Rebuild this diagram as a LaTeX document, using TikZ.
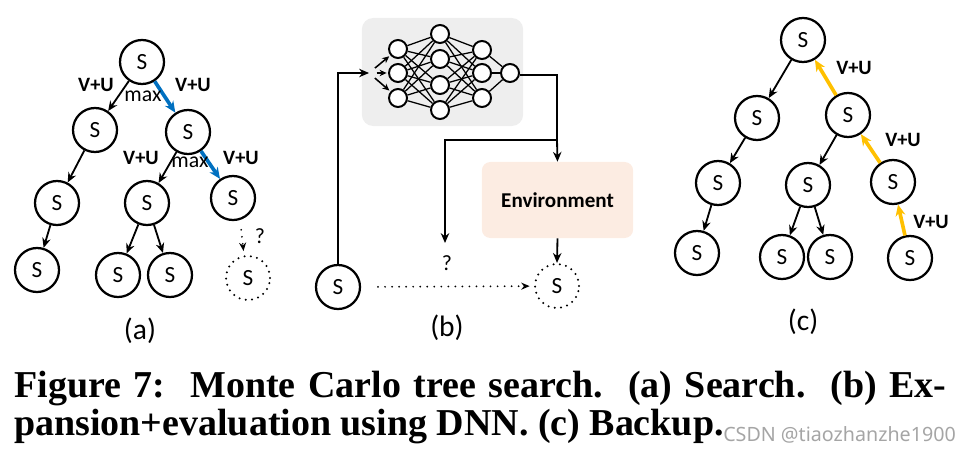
\documentclass[tikz,border=0pt]{standalone}
\usepackage{fontspec}
\setmainfont{Liberation Serif}
\setsansfont{Carlito}
\newfontfamily\markfont{Noto Sans}
\usetikzlibrary{arrows.meta}
\definecolor{pathblue}{RGB}{0,112,192}
\definecolor{backyellow}{RGB}{255,192,0}
\definecolor{netgray}{RGB}{238,238,238}
\definecolor{envpeach}{RGB}{252,236,226}
\definecolor{markgray}{RGB}{165,165,165}

\begin{document}
\begin{tikzpicture}[x=0.025cm, y=-0.025cm,
  state/.style={circle, draw, line width=1.6pt, minimum size=1.1cm, inner sep=0pt, font=\sffamily\fontsize{16.5}{16.5}\selectfont},
  ghost/.style={state, draw, dash pattern=on 0pt off 4.5pt, line cap=round},
  unit/.style={circle, draw, fill=white, line width=1.4pt, minimum size=0.45cm, inner sep=0pt},
  wire/.style={line width=0.9pt},
  arrow/.style={-{Stealth[length=7pt, width=6pt]}, line width=1.3pt},
  small arrow/.style={-{Stealth[length=5pt, width=4.5pt]}, line width=1.1pt},
  blue arrow/.style={-{Stealth[length=8pt, width=7pt]}, line width=2.6pt, draw=pathblue, fill=pathblue},
  back arrow/.style={-{Stealth[length=8pt, width=7pt]}, line width=2.6pt, draw=backyellow, fill=backyellow},
  dot arrow/.style={-{Stealth[length=6pt, width=5pt]}, line width=1.4pt, dash pattern=on 0pt off 5pt, line cap=round},
  lbl/.style={font=\sffamily\bfseries\fontsize{14.5}{14.5}\selectfont},
  mx/.style={font=\sffamily\fontsize{15.5}{15.5}\selectfont},
  sub/.style={font=\sffamily\fontsize{21}{21}\selectfont},
  capline/.style={inner sep=0pt, anchor=base west, font=\bfseries\fontsize{27}{27}\selectfont}
]
  \useasboundingbox (0,0) rectangle (966,453);

  % (a) Search
  \node[state] (ar0) at (142,62) {S};
  \node[state] (a1l) at (95,130) {S};
  \node[state] (a1r) at (188,132) {S};
  \node[state] (a2l) at (57,203) {S};
  \node[state] (a2m) at (147,203) {S};
  \node[state] (a2r) at (233,198) {S};
  \node[state] (a3l) at (37,270) {S};
  \node[state] (a3a) at (118,275) {S};
  \node[state] (a3b) at (170,275) {S};
  \node[ghost] (ad) at (248,278) {S};

  \draw[arrow] (ar0) -- (a1l);
  \draw[arrow] (a1l) -- (a2l);
  \draw[arrow] (a2l) -- (a3l);
  \draw[arrow] (a1r) -- (a2m);
  \draw[arrow] (a2m) -- (a3a);
  \draw[arrow] (a2m) -- (a3b);
  \draw[blue arrow] (ar0) -- (a1r);
  \draw[blue arrow] (a1r) -- (a2r);
  \draw[dot arrow, shorten <=7pt, shorten >=3pt] (a2r.-72) -- (ad.100);

  \node[lbl] (ua1) at (96,85) {V+U};
  \node[mx] (ma1) at (143,96) {max};
  \node[lbl] (ua2) at (193,85) {V+U};
  \node[lbl] (ua3) at (141,158) {V+U};
  \node[mx] (ma2) at (190,162) {max};
  \node[lbl] (ua4) at (241,158) {V+U};
  \node[mx] (qa) at (260,236) {?};
  \node[sub] (suba) at (140,331) {(a)};

  % (b) Expansion + evaluation
  \node[draw=none, fill=netgray, rounded corners=8pt, minimum width=4.03cm, minimum height=2.7cm] (net) at (442.5,72) {};
  \foreach \y [count=\i] in {49,73,98} \node[unit] (n1\i) at (398,\y) {};
  \foreach \y [count=\i] in {34,59,85,110} \node[unit] (n2\i) at (440,\y) {};
  \foreach \y [count=\i] in {50,73,98} \node[unit] (n3\i) at (482,\y) {};
  \node[unit] (nout) at (510,73) {};
  \foreach \i in {1,2,3} \foreach \j in {1,...,4} \draw[wire] (n1\i) -- (n2\j);
  \foreach \i in {1,...,4} \foreach \j in {1,2,3} \draw[wire] (n2\i) -- (n3\j);
  \foreach \i in {1,2,3} \draw[wire] (n3\i) -- (nout);

  \node[fill=envpeach, rounded corners=6pt, minimum width=3.78cm, minimum height=1.9cm, font=\sffamily\bfseries\fontsize{15}{15}\selectfont] (env) at (557.5,200) {Environment};
  \node[state] (bs) at (338,287) {S};
  \node[ghost] (bd) at (557,286) {S};
  \node[mx] (qb) at (447,263) {?};
  \node[sub] (subb) at (447,328) {(b)};

  \coordinate (netin) at (369,73);
  \coordinate (turn) at (557,75);
  \coordinate (split) at (557,140);
  \coordinate (qin) at (445,243);
  \draw[arrow] (bs.north) |- (netin);
  \foreach \i in {1,2,3} \draw[small arrow, shorten <=5.5pt, shorten >=1pt] (netin) -- (n1\i);
  \draw[line width=1.3pt] (nout.east |- turn) -- (turn) -- (split);
  \draw[arrow] (split) -- (env.north);
  \draw[arrow] (split) -| (qin);
  \draw[arrow] (env.south) -- (bd.north);
  \draw[dot arrow, shorten <=12pt, shorten >=3pt] (bs) -- (bd);

  % (c) Backup
  \node[state] (c0) at (803,40) {S};
  \node[state] (c1l) at (757,118) {S};
  \node[state] (c1r) at (848,115) {S};
  \node[state] (c2l) at (718,183) {S};
  \node[state] (c2m) at (808,185) {S};
  \node[state] (c2r) at (893,182) {S};
  \node[state] (c3l) at (697,253) {S};
  \node[state] (c3a) at (782,257) {S};
  \node[state] (c3b) at (830,257) {S};
  \node[state] (c3r) at (910,258) {S};

  \draw[arrow] (c0) -- (c1l);
  \draw[arrow] (c1l) -- (c2l);
  \draw[arrow] (c2l) -- (c3l);
  \draw[arrow] (c1r) -- (c2m);
  \draw[arrow] (c2m) -- (c3a);
  \draw[arrow] (c2m) -- (c3b);
  \draw[back arrow] (c1r) -- (c0);
  \draw[back arrow] (c2r) -- (c1r);
  \draw[back arrow] (c3r) -- (c2r);

  \node[lbl] (uc1) at (854,68) {V+U};
  \node[lbl] (uc2) at (903,140) {V+U};
  \node[lbl] (uc3) at (931,222) {V+U};
  \node[sub] (subc) at (803,322) {(c)};

  % caption
  \node[capline] (cap1) at (14,397) {\makebox[23.3cm][s]{Figure 7:\ \ Monte Carlo tree search.\ \ (a) Search.\ \ (b) Ex-}};
  \node[capline] (cap2) at (14,435) {pansion+evaluation using DNN. (c) Backup.};
  \node[inner sep=0pt, anchor=base west, text=markgray, font=\markfont\fontsize{14}{14}\selectfont] (wmark) at (723,441) {CSDN @tiaozhanzhe1900};
\end{tikzpicture}
\end{document}
